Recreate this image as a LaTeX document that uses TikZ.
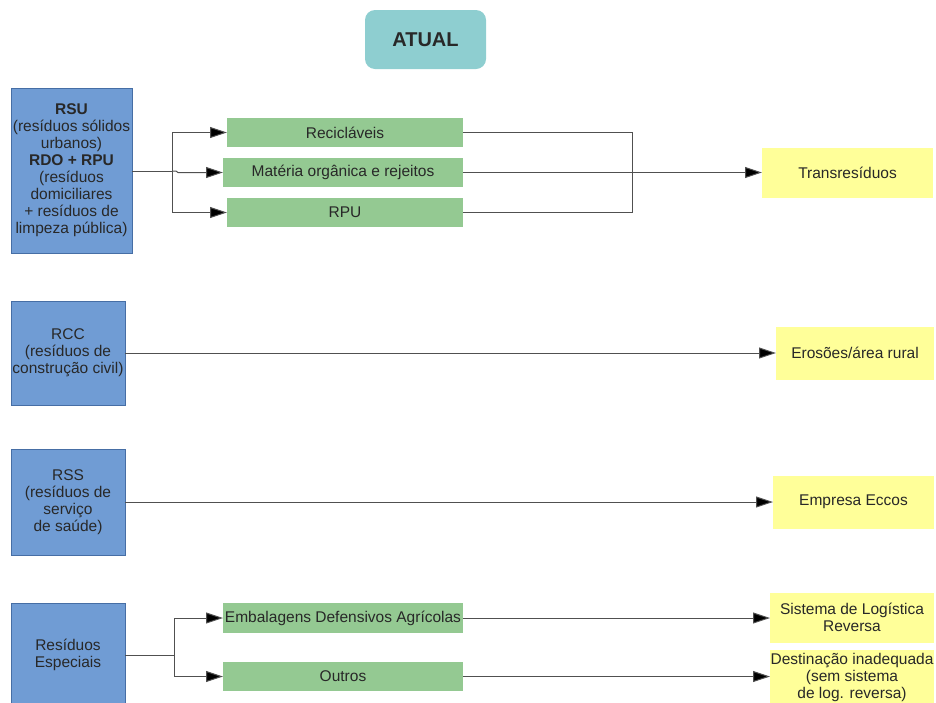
\documentclass[tikz,border=0pt]{standalone}
\usepackage{fontspec}
\setmainfont{Liberation Sans}
\usetikzlibrary{arrows.meta}
\definecolor{srcblue}{RGB}{112,156,212}
\definecolor{srcblueb}{RGB}{70,110,165}
\definecolor{midgreen}{RGB}{148,201,146}
\definecolor{dstyellow}{RGB}{255,255,153}
\definecolor{titleteal}{RGB}{142,206,208}
\definecolor{txt}{RGB}{40,40,40}
\definecolor{ln}{RGB}{80,80,80}
\begin{document}
\begin{tikzpicture}[x=1pt,y=-1pt,
  every node/.style={inner sep=0pt,outer sep=0pt,text=txt,font=\fontsize{15.5}{17}\selectfont,align=center},
  srcbox/.style={fill=srcblue,draw=srcblueb,line width=0.8pt},
  midbox/.style={fill=midgreen,minimum height=29pt},
  dstbox/.style={fill=dstyellow},
  conn/.style={draw=ln,line width=1pt},
  arr/.style={conn,-{Triangle[length=17pt,width=11pt,fill=black]}},
]
\useasboundingbox (0,0) rectangle (936,702);
\node[fill=titleteal,rounded corners=10pt,minimum width=121pt,minimum height=59pt,font=\fontsize{20}{22}\selectfont\bfseries] (title) at (425.5,39.5) {ATUAL};

% RSU group
\node[srcbox,minimum width=121pt,minimum height=165pt] (rsu) at (71.5,170.5) {\textbf{RSU}\\(resíduos sólidos\\urbanos)\\\textbf{RDO + RPU}\\(resíduos\\domiciliares\\+ resíduos de\\limpeza pública)};
\node[midbox,minimum width=236pt] (rec) at (345,132.5) {Recicláveis};
\node[midbox,minimum width=240pt] (mat) at (343,172.5) {Matéria orgânica e rejeitos};
\node[midbox,minimum width=236pt] (rpu) at (345,212.5) {RPU};
\node[dstbox,minimum width=171pt,minimum height=50pt] (trans) at (847.5,173) {Transresíduos};
\coordinate (sj) at (172,171);
\coordinate (tj) at (632,172);
\draw[conn] (rsu.east |- sj) -- (sj);
\draw[arr] (sj) -- (sj |- rec.west) -- (rec.west);
\draw[arr] (sj) -- (176,171) -- (178,172.5) -- (mat.west);
\draw[arr] (sj) -- (sj |- rpu.west) -- (rpu.west);
\draw[conn] (rec.east) -- (tj |- rec.east) -- (tj |- rpu.east) -- (rpu.east);
\draw[arr] (mat.east) -- (trans.west |- mat.east);

% RCC
\node[srcbox,minimum width=114pt,minimum height=104pt] (rcc) at (68,353) {RCC\\(resíduos de\\construção civil)};
\node[dstbox,minimum width=158pt,minimum height=53pt] (ero) at (855,353) {Erosões/área rural};
\draw[arr] (rcc.east) -- (ero.west);

% RSS
\node[srcbox,minimum width=114pt,minimum height=106pt] (rss) at (68,502) {RSS\\(resíduos de\\serviço\\de saúde)};
\node[dstbox,minimum width=161pt,minimum height=53pt] (ecc) at (853.5,502) {Empresa Eccos};
\draw[arr] (rss.east) -- (ecc.west);

% Especiais
\node[srcbox,minimum width=114pt,minimum height=104pt] (esp) at (68,655) {Resíduos\\Especiais};
\node[midbox,minimum width=240pt,minimum height=30pt] (emb) at (343,618) {Embalagens Defensivos Agrícolas};
\node[midbox,minimum width=240pt] (out) at (343,676.5) {Outros};
\node[dstbox,minimum width=164pt,minimum height=50pt] (sis) at (852,617.5) {Sistema de Logística\\Reversa};
\node[dstbox,minimum width=164pt,minimum height=54pt] (des) at (852,677) {Destinação inadequada\\(sem sistema\\de log. reversa)};
\coordinate (ej) at (174,655);
\draw[conn] (esp.east |- ej) -- (ej);
\draw[arr] (ej) -- (ej |- emb.west) -- (emb.west);
\draw[arr] (ej) -- (ej |- out.west) -- (out.west);
\draw[arr] (emb.east) -- (sis.west |- emb.east);
\draw[arr] (out.east) -- (des.west |- out.east);
\end{tikzpicture}
\end{document}
